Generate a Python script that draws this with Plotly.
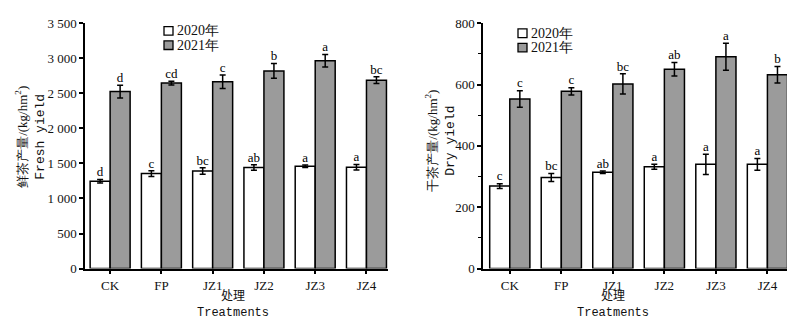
import plotly.graph_objects as go

categories = ["CK", "FP", "JZ1", "JZ2", "JZ3", "JZ4"]
series_names = ["2020年", "2021年"]

fresh_2020 = [1247, 1355, 1392, 1442, 1460, 1446]
fresh_2020_err = [25, 40, 45, 38, 18, 38]
fresh_2021 = [2525, 2647, 2665, 2820, 2965, 2688]
fresh_2021_err = [90, 27, 95, 105, 90, 48]
fresh_2020_sig = ["d", "c", "bc", "ab", "a", "a"]
fresh_2021_sig = ["d", "cd", "c", "b", "a", "bc"]

dry_2020 = [269, 297, 314, 332, 340, 340]
dry_2020_err = [8, 13, 4, 8, 33, 19]
dry_2021 = [553, 578, 602, 650, 691, 632]
dry_2021_err = [27, 12, 33, 22, 44, 27]
dry_2020_sig = ["c", "bc", "ab", "a", "a", "a"]
dry_2021_sig = ["c", "c", "bc", "ab", "a", "b"]

fresh_ticks = [0, 500, 1000, 1500, 2000, 2500, 3000, 3500]
fresh_ticktext = ["0", "500", "1 000", "1 500", "2 000", "2 500", "3 000", "3 500"]
dry_ticks = [0, 200, 400, 600, 800]
dry_ticktext = ["0", "200", "400", "600", "800"]

SERIF = "Liberation Serif"
MONO = "Liberation Mono"
CJK = "Noto Sans CJK SC"
BAR_W = 0.39
OFF = BAR_W / 2
fills = ["#ffffff", "#9b9b9b"]
INK = "#111111"

fig = go.Figure()

panels = [
    dict(xa="x", ya="y",
         data=[(fresh_2020, fresh_2020_err, fresh_2020_sig), (fresh_2021, fresh_2021_err, fresh_2021_sig)]),
    dict(xa="x2", ya="y2",
         data=[(dry_2020, dry_2020_err, dry_2020_sig), (dry_2021, dry_2021_err, dry_2021_sig)]),
]

idx = list(range(len(categories)))
for p in panels:
    for s, (vals, errs, sig) in enumerate(p["data"]):
        xs = [i + (OFF if s == 1 else -OFF) for i in idx]
        fig.add_trace(go.Bar(
            x=xs, y=vals, width=BAR_W, name=series_names[s],
            marker=dict(color=fills[s], line=dict(color="black", width=1.5)),
            error_y=dict(type="data", array=errs, visible=True, color="black", thickness=1.5, width=3),
            xaxis=p["xa"], yaxis=p["ya"], showlegend=False,
        ))
    for s, (vals, errs, sig) in enumerate(p["data"]):
        xs = [i + (OFF if s == 1 else -OFF) for i in idx]
        fig.add_trace(go.Scatter(
            x=xs, y=[v + e for v, e in zip(vals, errs)], text=sig, mode="text",
            textposition="top center", textfont=dict(family=SERIF, size=13, color="black"),
            xaxis=p["xa"], yaxis=p["ya"], showlegend=False, hoverinfo="skip",
        ))

axis_common = dict(showline=True, linecolor="black", linewidth=1.5, ticks="outside",
                   ticklen=4, tickwidth=1.5, tickcolor="black", showgrid=False, zeroline=False,
                   tickfont=dict(family=SERIF, size=13, color=INK))

fig.update_layout(
    width=800, height=331, margin=dict(l=0, r=0, t=0, b=0),
    plot_bgcolor="white", paper_bgcolor="white", barmode="overlay", showlegend=False,
    xaxis=dict(domain=[85/800, 388/800], range=[-0.49, 5.42], tickvals=idx, ticktext=categories,
               anchor="y", **axis_common),
    yaxis=dict(domain=[1-274/331, 1-17/331], range=[0, 3500], tickvals=fresh_ticks,
               ticktext=fresh_ticktext, anchor="x", **axis_common),
    xaxis2=dict(domain=[483/800, 787/800], range=[-0.52, 5.38], tickvals=idx, ticktext=categories,
                anchor="y2", **axis_common),
    yaxis2=dict(domain=[1-274/331, 1-17/331], range=[0, 800], tickvals=dry_ticks,
                ticktext=dry_ticktext, anchor="x2",
                minor=dict(dtick=100, ticks="outside", ticklen=3, tickwidth=1.2, tickcolor="black"),
                **axis_common),
)

def ann(x_px, y_px, text, font, **kw):
    fig.add_annotation(x=x_px/800, y=1-y_px/331, xref="paper", yref="paper", showarrow=False,
                       xanchor="center", yanchor="middle", text=text, font=font, **kw)

def title_y(x_px, y_px, cn, en):
    ann(x_px, y_px, f"{cn}<br><span style='font-family:{MONO}'>{en}</span>",
        dict(family=SERIF, size=13, color=INK), textangle=-90, align="center")

title_y(30, 136, "鲜茶产量/(kg/hm<sup>2</sup>)", "Fresh yield")
title_y(440, 140, "干茶产量/(kg/hm<sup>2</sup>)", "Dry yield")

for xc in (233, 613):
    ann(xc, 310, f"<span style='font-family:{CJK}'>处理</span><br>"
                 f"<span style='font-family:{MONO}'>Treatments</span>",
        dict(family=MONO, size=12, color=INK), align="center")

# legends (box + label)
for (bx, by) in ((164, 25), (518, 27.5)):
    for s, name in enumerate(series_names):
        yc = by + s * 15
        fig.add_shape(type="rect", xref="paper", yref="paper",
                      x0=bx/800, x1=(bx+9)/800, y0=1-(yc+4.5)/331, y1=1-(yc-4.5)/331,
                      fillcolor=fills[s], line=dict(color="black", width=1.3))
        fig.add_annotation(x=(bx+11)/800, y=1-yc/331, xref="paper", yref="paper", showarrow=False,
                           xanchor="left", yanchor="middle", text=name,
                           font=dict(family=SERIF, size=14, color=INK))

fig.write_html("out.html")
